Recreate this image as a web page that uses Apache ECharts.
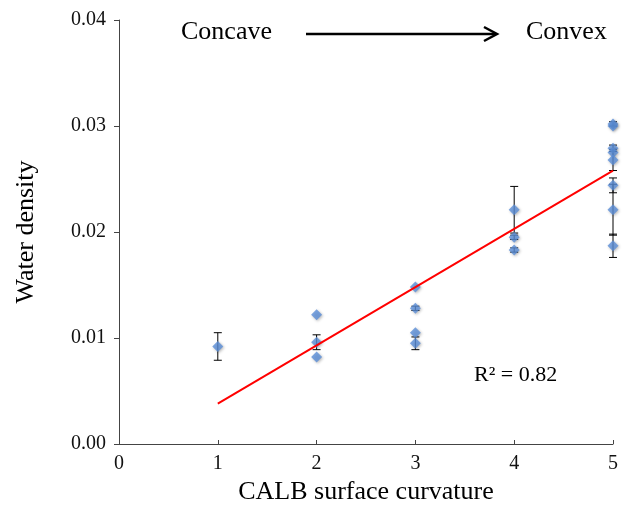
<!DOCTYPE html>
<html><head><meta charset="utf-8">
<script src="https://cdn.jsdelivr.net/npm/echarts@6/dist/echarts.min.js"></script>
<style>html,body{margin:0;padding:0;background:#fff}#c{width:623px;height:517px}</style>
</head><body><div id="c"></div>
<script>
var curvature = [1, 2, 2, 2, 3, 3, 3, 3, 4, 4, 4, 5, 5, 5, 5, 5, 5, 5, 5];
var density   = [0.0092, 0.0122, 0.0096, 0.0082, 0.0148, 0.0128, 0.0105, 0.0095, 0.0221, 0.0195, 0.0183, 0.0302, 0.0300, 0.0279, 0.0275, 0.0268, 0.0244, 0.0221, 0.0187];
var errors    = [0.0013, 0, 0.0007, 0, 0, 0.0002, 0, 0.0006, 0.0022, 0.0002, 0.0002, 0.0002, 0, 0.0003, 0, 0.0010, 0.0007, 0.0024, 0.0011];
var fitX = [1, 5];
var fitY = [0.0038, 0.0258];
var yTicks = [0, 0.01, 0.02, 0.03, 0.04];

var pts = curvature.map(function(x, i){ return [x, density[i]]; });
var errData = curvature.map(function(x, i){ return [x, density[i] - errors[i], density[i] + errors[i]]; }).filter(function(d){ return d[2] > d[1]; });
var fit = fitX.map(function(x, i){ return [x, fitY[i]]; });

var serif = '"Liberation Serif","DejaVu Serif",serif';
var chart = echarts.init(document.getElementById('c'), null, {renderer: 'canvas'});
chart.setOption({
  animation: false,
  grid: {left: 119, right: 10, top: 20, bottom: 73},
  xAxis: {
    type: 'value', min: 0, max: 5, interval: 1,
    name: 'CALB surface curvature', nameLocation: 'middle', nameGap: 35,
    nameTextStyle: {fontFamily: serif, fontSize: 26, color: '#000'},
    axisLine: {lineStyle: {color: '#444', width: 1}},
    axisTick: {show: true, inside: true, length: 4, lineStyle: {color: '#444'}},
    axisLabel: {fontFamily: serif, fontSize: 20, color: '#111', margin: 10},
    splitLine: {show: false}
  },
  yAxis: {
    type: 'value', min: yTicks[0], max: yTicks[yTicks.length-1], interval: 0.01,
    name: 'Water density', nameLocation: 'middle', nameGap: 80,
    nameTextStyle: {fontFamily: serif, fontSize: 26, color: '#000'},
    axisLine: {show: true, lineStyle: {color: '#444', width: 1}},
    axisTick: {show: true, length: 5, lineStyle: {color: '#444'}},
    axisLabel: {fontFamily: serif, fontSize: 20, color: '#111', margin: 13,
      formatter: function(v){ return v.toFixed(2); }},
    splitLine: {show: false}
  },
  series: [
    {
      type: 'custom', z: 3,
      renderItem: function(params, api){
        var x = api.value(0);
        var lo = api.coord([x, api.value(1)]);
        var hi = api.coord([x, api.value(2)]);
        var w = 4;
        return {type: 'group', children: [
          {type: 'line', shape: {x1: lo[0], y1: lo[1], x2: hi[0], y2: hi[1]}, style: {stroke: '#000', lineWidth: 1}},
          {type: 'line', shape: {x1: lo[0]-w, y1: lo[1], x2: lo[0]+w, y2: lo[1]}, style: {stroke: '#000', lineWidth: 1}},
          {type: 'line', shape: {x1: hi[0]-w, y1: hi[1], x2: hi[0]+w, y2: hi[1]}, style: {stroke: '#000', lineWidth: 1}}
        ]};
      },
      encode: {x: 0, y: [1, 2]},
      data: errData
    },
    {
      type: 'scatter', z: 4, symbol: 'diamond', symbolSize: 11,
      itemStyle: {color: '#5b8fd8', shadowColor: 'rgba(0,0,0,0.35)', shadowBlur: 3, shadowOffsetX: 1, shadowOffsetY: 1},
      data: pts
    },
    {
      type: 'line', z: 5, symbol: 'none', silent: true,
      lineStyle: {color: '#ff0000', width: 2},
      data: fit
    }
  ],
  graphic: [
    {type: 'text', left: 181, top: 19, style: {text: 'Concave', font: '26px ' + serif, fill: '#000'}},
    {type: 'text', left: 526, top: 19, style: {text: 'Convex', font: '26px ' + serif, fill: '#000'}},
    {type: 'line', shape: {x1: 306, y1: 34, x2: 496, y2: 34}, style: {stroke: '#000', lineWidth: 2.5}},
    {type: 'polyline', shape: {points: [[484, 27], [497, 34], [484, 41]]}, style: {stroke: '#000', lineWidth: 2.5, fill: null}},
    {type: 'text', left: 474, top: 364, style: {text: 'R² = 0.82', font: '22px ' + serif, fill: '#000'}}
  ]
});
</script></body></html>
